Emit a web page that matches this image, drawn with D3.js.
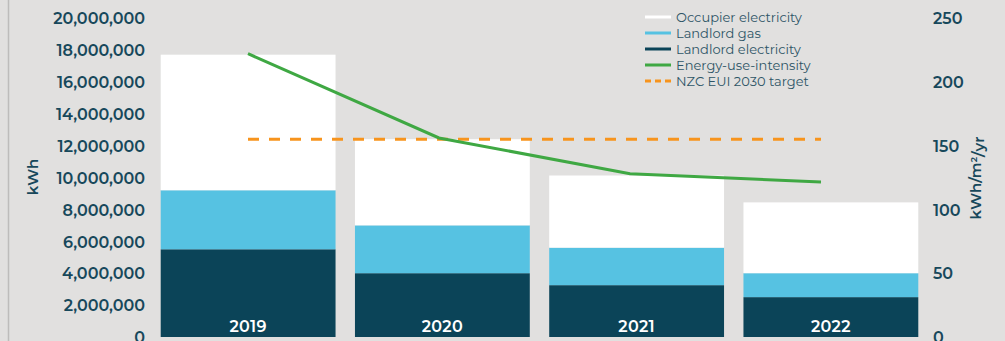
<!DOCTYPE html>
<html><head><meta charset="utf-8">
<script src="https://cdn.jsdelivr.net/npm/d3@7"></script>
<style>
html,body{margin:0;padding:0;background:#e1e0df;}
svg{display:block;}
</style></head>
<body>
<svg id="chart" width="1005" height="341"></svg>
<script>
const years = ["2019", "2020", "2021", "2022"];
const landlordElectricity = [5500000, 4000000, 3250000, 2500000];
const landlordGas = [3700000, 3000000, 2350000, 1500000];
const occupierElectricity = [8500000, 5400000, 4525000, 4440000];
const energyUseIntensity = [222, 156, 128, 121.5];
const nzcTarget = [155, 155, 155, 155];
const leftTicks = [0, 2000000, 4000000, 6000000, 8000000, 10000000, 12000000, 14000000, 16000000, 18000000, 20000000];
const rightTicks = [0, 50, 100, 150, 200, 250];
const legendLabels = ["Occupier electricity", "Landlord gas", "Landlord electricity", "Energy-use-intensity", "NZC EUI 2030 target"];

const textColor = "#17485b";
const colors = {occ: "#ffffff", gas: "#56c2e2", elec: "#0b4458", eui: "#3fa843", target: "#f7941d"};

const svg = d3.select("#chart");
const font = "Montserrat, 'Open Sans', sans-serif";

// left border line
svg.append("line").attr("x1", 8.5).attr("x2", 8.5).attr("y1", 0).attr("y2", 341)
  .attr("stroke", "#bdbcbb").attr("stroke-width", 1.5);

const x = d3.scaleBand().domain(years).range([151, 928]).paddingInner(0.1).paddingOuter(0.05);
const xLine = d3.scalePoint().domain(years).range([248, 821]);
const yL = d3.scaleLinear().domain([0, 20000000]).range([337, 18]);
const yR = d3.scaleLinear().domain([0, 250]).range([337, 18]);

// stacked data
const rows = years.map((y, i) => ({year: y, elec: landlordElectricity[i], gas: landlordGas[i], occ: occupierElectricity[i]}));
const stack = d3.stack().keys(["elec", "gas", "occ"])(rows);
svg.append("g").selectAll("g").data(stack).join("g")
  .attr("fill", d => colors[d.key])
  .selectAll("rect").data(d => d).join("rect")
  .attr("x", d => x(d.data.year))
  .attr("width", x.bandwidth())
  .attr("y", d => yL(d[1]))
  .attr("height", d => yL(d[0]) - yL(d[1]));

// year labels inside bars
svg.append("g").selectAll("text").data(years).join("text")
  .attr("x", d => x(d) + x.bandwidth() / 2)
  .attr("y", 332)
  .attr("text-anchor", "middle")
  .attr("fill", "#ffffff")
  .style("font-family", font).style("font-weight", 600).style("font-size", "16px")
  .style("letter-spacing", "0.3px")
  .text(d => d);

// left axis
const fmt = d3.format(",");
const leftAxis = d3.axisLeft(yL).tickValues(leftTicks).tickFormat(fmt).tickSize(0).tickPadding(0);
const gL = svg.append("g").attr("transform", "translate(145,0)").call(leftAxis);
gL.select(".domain").remove();
gL.selectAll("text").attr("fill", textColor).attr("dy", "0.36em")
  .style("font-family", font).style("font-weight", 600).style("font-size", "16px");

// right axis
const rightAxis = d3.axisRight(yR).tickValues(rightTicks).tickSize(0).tickPadding(0);
const gR = svg.append("g").attr("transform", "translate(933,0)").call(rightAxis);
gR.select(".domain").remove();
gR.selectAll("text").attr("fill", textColor).attr("dy", "0.36em")
  .style("font-family", font).style("font-weight", 600).style("font-size", "16px");

// axis titles
svg.append("text").attr("transform", "translate(38,177) rotate(-90)")
  .attr("text-anchor", "middle").attr("fill", textColor)
  .style("font-family", font).style("font-weight", 600).style("font-size", "15px").text("kWh");
const rt = svg.append("text").attr("transform", "translate(981,178) rotate(-90)")
  .attr("text-anchor", "middle").attr("fill", textColor)
  .style("font-family", font).style("font-weight", 600).style("font-size", "15px");
rt.append("tspan").text("kWh/m");
rt.append("tspan").attr("dy", "-0.45em").style("font-size", "9px").text("2");
rt.append("tspan").attr("dy", "0.45em").text("/yr");

// target line
const line = d3.line().x((d, i) => xLine(years[i])).y(d => yR(d));
svg.append("path").datum(nzcTarget).attr("d", line)
  .attr("fill", "none").attr("stroke", colors.target).attr("stroke-width", 3)
  .attr("stroke-dasharray", "11,10");

// EUI line
svg.append("path").datum(energyUseIntensity).attr("d", line)
  .attr("fill", "none").attr("stroke", colors.eui).attr("stroke-width", 3);

// legend
const legendColors = [colors.occ, colors.gas, colors.elec, colors.eui, colors.target];
const lg = svg.append("g");
legendLabels.forEach((lab, i) => {
  const yy = 17 + i * 16;
  lg.append("line").attr("x1", 645).attr("x2", 671).attr("y1", yy).attr("y2", yy)
    .attr("stroke", legendColors[i]).attr("stroke-width", 3)
    .attr("stroke-dasharray", i === 4 ? "6,4" : null);
  lg.append("text").attr("x", 676).attr("y", yy).attr("dy", "0.35em")
    .attr("fill", "#2e5566")
    .style("font-family", font).style("font-size", "13px").text(lab);
});
</script>
</body></html>
